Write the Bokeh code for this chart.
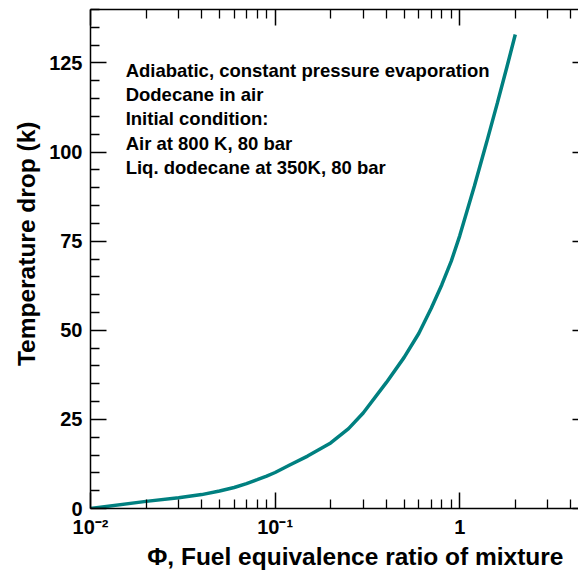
from bokeh.plotting import figure
from bokeh.models import LogAxis, LinearAxis, FixedTicker, CustomJSTickFormatter, Title
from bokeh.core.properties import value
from bokeh.embed import file_html
from bokeh.resources import INLINE

# ---- data ----
phi = [0.01, 0.02, 0.03, 0.04, 0.05, 0.06, 0.07, 0.08, 0.09, 0.1, 0.12, 0.15,
       0.2, 0.25, 0.3, 0.4, 0.5, 0.6, 0.7, 0.8, 0.9, 1.0, 1.2, 1.4, 1.6, 1.8, 2.0]
temp_drop = [0.0, 2.0, 3.0, 3.9, 4.9, 5.9, 7.0, 8.1, 9.1, 10.1, 12.2, 14.7,
             18.4, 22.4, 26.8, 35.3, 42.4, 49.1, 56.1, 62.8, 69.4, 76.5, 90.4, 102.8, 113.8, 123.8, 133.0]

x_major_ticks = [0.01, 0.1, 1]
x_major_labels = ["10\u207b\u00b2", "10\u207b\u00b9", "1"]
x_minor_ticks = [0.02, 0.03, 0.04, 0.05, 0.06, 0.07, 0.08, 0.09,
                 0.2, 0.3, 0.4, 0.5, 0.6, 0.7, 0.8, 0.9,
                 2, 3, 4]
y_major_ticks = [0, 25, 50, 75, 100, 125]
y_minor_ticks = [5, 10, 15, 20, 30, 35, 40, 45, 55, 60, 65, 70, 80, 85, 90, 95,
                 105, 110, 115, 120, 130, 135, 140]

annotation_lines = ["Adiabatic, constant pressure evaporation",
                    "Dodecane in air",
                    "Initial condition:",
                    "Air at 800 K, 80 bar",
                    "Liq. dodecane at 350K, 80 bar"]
x_label = "\u03a6, Fuel equivalence ratio of mixture"
y_label = "Temperature drop (k)"

FONT = "Liberation Sans"

p = figure(width=578, height=575, x_axis_type="log", x_range=(0.01, 4.4), y_range=(0, 140),
           output_backend="svg", toolbar_location=None,
           min_border_left=90, min_border_right=0, min_border_top=9, min_border_bottom=67,
           background_fill_color="white", border_fill_color="white", outline_line_color=None)
p.grid.visible = False


def style(ax, minor=True):
    ax.axis_line_color = "black"
    ax.axis_line_width = 1.5
    ax.major_tick_line_color = "black"
    ax.major_tick_line_width = 1.5
    ax.major_tick_in = 16
    ax.major_tick_out = 0
    if minor:
        ax.minor_tick_line_color = "black"
        ax.minor_tick_line_width = 1.3
        ax.minor_tick_in = 9
    else:
        ax.minor_tick_line_color = None
        ax.minor_tick_in = 0
    ax.minor_tick_out = 0
    ax.major_label_text_font = FONT
    ax.major_label_text_font_style = "bold"
    ax.major_label_text_font_size = "20px"
    ax.major_label_text_color = "black"


x_ticker = FixedTicker(ticks=x_major_ticks, minor_ticks=x_minor_ticks)
y_ticker = FixedTicker(ticks=y_major_ticks, minor_ticks=y_minor_ticks)

xa = p.xaxis[0]
xa.ticker = x_ticker
xa.formatter = CustomJSTickFormatter(
    args=dict(tick_vals=x_major_ticks, tick_labels=x_major_labels),
    code="""
    for (let i = 0; i < tick_vals.length; i++) {
        if (Math.abs(tick_vals[i] - tick) < 1e-9 * Math.max(1, tick_vals[i])) return tick_labels[i];
    }
    return '';
    """)
style(xa)
xa.major_label_standoff = 7

ya = p.yaxis[0]
ya.ticker = y_ticker
style(ya)
ya.major_label_standoff = 8

top = LogAxis(ticker=x_ticker, formatter=CustomJSTickFormatter(code="return '';"))
style(top)
top.major_label_text_font_size = "0px"
top.major_label_standoff = 0
p.add_layout(top, "above")

right = LinearAxis(ticker=FixedTicker(ticks=y_major_ticks, minor_ticks=[]),
                   formatter=CustomJSTickFormatter(code="return '';"))
style(right, minor=False)
right.axis_line_color = None
right.major_tick_in = 6
right.major_label_text_font_size = "0px"
right.major_label_standoff = 0
p.add_layout(right, "right")

p.line(phi, temp_drop, line_color="#008080", line_width=3.5)

ann_x = 0.0155
ann_y0 = 122.9
ann_dy = 6.8
p.text(x=[ann_x] * len(annotation_lines),
       y=[ann_y0 - i * ann_dy for i in range(len(annotation_lines))],
       text=annotation_lines,
       text_font=value(FONT), text_font_style="bold", text_font_size="18.5px",
       text_baseline="alphabetic", text_align="left", text_color="black")

# axis titles
p.add_layout(Title(text=x_label, align="right", offset=15, standoff=0,
                   text_font=FONT, text_font_style="bold", text_font_size="24.5px",
                   text_color="black"), "below")
p.add_layout(Title(text=y_label, align="right", offset=112, standoff=14,
                   text_font=FONT, text_font_style="bold", text_font_size="24.5px",
                   text_color="black"), "left")

open("out.html", "w").write(file_html(p, INLINE))
